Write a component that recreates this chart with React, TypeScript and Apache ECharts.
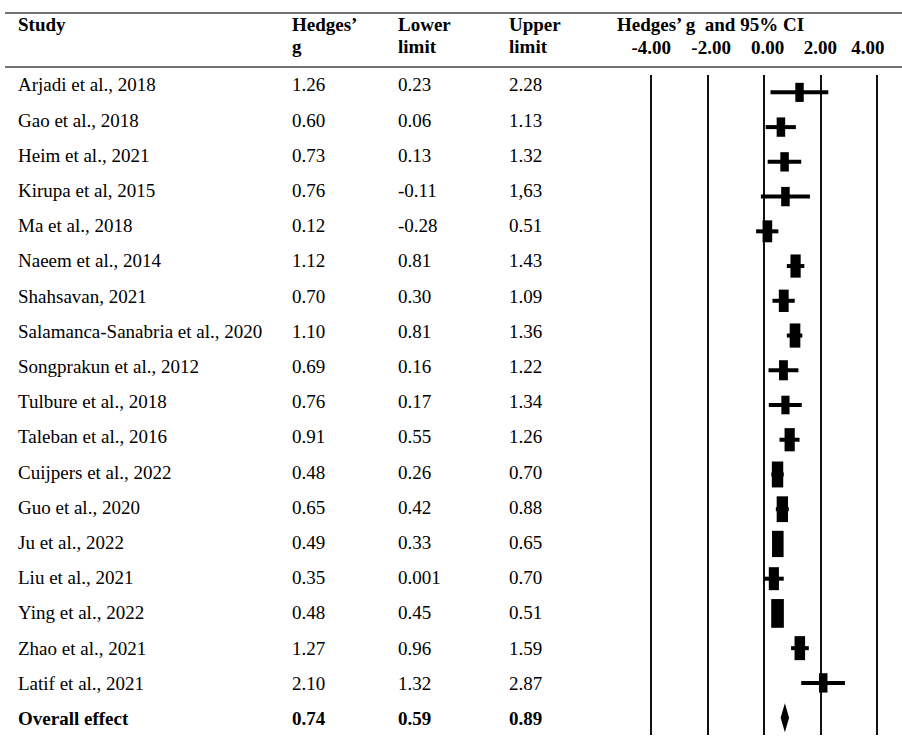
import React, { useEffect, useRef } from "react";
import * as echarts from "echarts";

// ---------- data ----------
const studies = [
  "Arjadi et al., 2018",
  "Gao et al., 2018",
  "Heim et al., 2021",
  "Kirupa et al, 2015",
  "Ma et al., 2018",
  "Naeem et al., 2014",
  "Shahsavan, 2021",
  "Salamanca-Sanabria et al., 2020",
  "Songprakun et al., 2012",
  "Tulbure et al., 2018",
  "Taleban et al., 2016",
  "Cuijpers et al., 2022",
  "Guo et al., 2020",
  "Ju et al., 2022",
  "Liu et al., 2021",
  "Ying et al., 2022",
  "Zhao et al., 2021",
  "Latif et al., 2021",
];
const hedgesG = ["1.26", "0.60", "0.73", "0.76", "0.12", "1.12", "0.70", "1.10", "0.69", "0.76", "0.91", "0.48", "0.65", "0.49", "0.35", "0.48", "1.27", "2.10"];
const lowerLimit = ["0.23", "0.06", "0.13", "-0.11", "-0.28", "0.81", "0.30", "0.81", "0.16", "0.17", "0.55", "0.26", "0.42", "0.33", "0.001", "0.45", "0.96", "1.32"];
const upperLimit = ["2.28", "1.13", "1.32", "1,63", "0.51", "1.43", "1.09", "1.36", "1.22", "1.34", "1.26", "0.70", "0.88", "0.65", "0.70", "0.51", "1.59", "2.87"];
// relative study weights (%)
const studyWeights = [3.8, 3.9, 3.9, 3.9, 5.0, 5.6, 5.2, 6.1, 4.2, 3.6, 5.6, 7.0, 6.9, 7.2, 5.5, 8.6, 6.0, 3.9];
const overallLabel = "Overall effect";
const overallG = "0.74";
const overallLower = "0.59";
const overallUpper = "0.89";
const axisTicks = [-4, -2, 0, 2, 4];

// ---------- layout / style ----------
const W = 902;
const H = 747;
const FONT = "'Liberation Serif', 'Times New Roman', Times, serif";
const FS = 19;
const TEXT_COLOR = "#000";
const colX = { study: 18, g: 292, lo: 398, hi: 509 };

const num = (s: string) => parseFloat(s.replace(",", "."));

const rowNames = [...studies, overallLabel];

export default function App() {
  const ref = useRef<HTMLDivElement>(null);

  useEffect(() => {
    document.body.style.margin = "0";
    if (!ref.current) return;
    const chart = echarts.init(ref.current, undefined, { renderer: "svg" });

    const tableData = rowNames.map((name, i) => {
      const isOverall = i === studies.length;
      return [
        i,
        name,
        isOverall ? overallG : hedgesG[i],
        isOverall ? overallLower : lowerLimit[i],
        isOverall ? overallUpper : upperLimit[i],
        isOverall ? 1 : 0,
      ];
    });

    const forestData = rowNames.map((_, i) => {
      const isOverall = i === studies.length;
      return [
        num(isOverall ? overallG : hedgesG[i]),
        num(isOverall ? overallLower : lowerLimit[i]),
        num(isOverall ? overallUpper : upperLimit[i]),
        isOverall ? 0 : studyWeights[i],
        i,
        isOverall ? 1 : 0,
      ];
    });

    const txt = (x: number, y: number, text: string, bold: boolean) => ({
      type: "text",
      x,
      y,
      style: {
        text,
        fill: TEXT_COLOR,
        font: `${bold ? "bold " : ""}${FS}px ${FONT}`,
        textAlign: "left",
        textVerticalAlign: "middle",
      },
    });

    const option: any = {
      animation: false,
      backgroundColor: "#fff",
      grid: [
        { left: 651.2, right: W - 876.8, top: 75, bottom: 12 },
        { left: 0, right: 0, top: 67.4, bottom: 11 },
      ],
      xAxis: [
        {
          gridIndex: 0,
          type: "value",
          position: "top",
          min: axisTicks[0],
          max: axisTicks[axisTicks.length - 1],
          interval: axisTicks[1] - axisTicks[0],
          axisLine: { show: false },
          axisTick: { show: false },
          splitLine: { show: true, showMinLine: true, showMaxLine: true, lineStyle: { color: "#111", width: 2 } },
          axisLabel: {
            show: true,
            margin: 28,
            verticalAlign: "middle",
            color: TEXT_COLOR,
            fontFamily: FONT,
            fontSize: FS,
            fontWeight: "bold",
            formatter: (v: number) => {
              const s = v.toFixed(2);
              if (v === axisTicks[axisTicks.length - 1]) return `{r|${s}}`;
              if (v === axisTicks[1] || v === axisTicks[2]) return `{p|${s}}`;
              return s;
            },
            rich: {
              r: { padding: [0, 18, 0, 0], color: TEXT_COLOR, fontFamily: FONT, fontSize: FS, fontWeight: "bold" },
              p: { padding: [0, 0, 0, 7], color: TEXT_COLOR, fontFamily: FONT, fontSize: FS, fontWeight: "bold" },
            },
          },
        },
        { gridIndex: 1, type: "value", min: 0, max: W, show: false },
      ],
      yAxis: [
        { gridIndex: 0, type: "category", data: rowNames, inverse: true, show: false },
        { gridIndex: 1, type: "category", data: rowNames, inverse: true, show: false },
      ],
      series: [
        {
          type: "custom",
          xAxisIndex: 1,
          yAxisIndex: 1,
          data: tableData,
          silent: true,
          renderItem: (params: any, api: any) => {
            const idx = params.dataIndex;
            const row = tableData[idx];
            const y = api.coord([0, row[0]])[1];
            const bold = row[5] === 1;
            const mk = (x: number, text: string) => ({
              type: "text",
              x,
              y,
              style: {
                text,
                fill: TEXT_COLOR,
                font: `${bold ? "bold " : ""}${FS}px ${FONT}`,
                textAlign: "left",
                textVerticalAlign: "middle",
              },
            });
            return {
              type: "group",
              children: [
                mk(colX.study, row[1] as string),
                mk(colX.g, row[2] as string),
                mk(colX.lo, row[3] as string),
                mk(colX.hi, row[4] as string),
              ],
            };
          },
        },
        {
          type: "custom",
          xAxisIndex: 0,
          yAxisIndex: 0,
          data: forestData,
          silent: true,
          encode: { x: [0, 1, 2], y: 4 },
          renderItem: (params: any, api: any) => {
            const yi = api.value(4);
            const pc = api.coord([api.value(0), yi]);
            const lo = api.coord([api.value(1), yi]);
            const hi = api.coord([api.value(2), yi]);
            if (api.value(5) === 1) {
              const hh = 14.5;
              return {
                type: "polygon",
                shape: {
                  points: [
                    [lo[0], pc[1]],
                    [pc[0], pc[1] - hh],
                    [hi[0], pc[1]],
                    [pc[0], pc[1] + hh],
                  ],
                },
                style: { fill: "#000" },
              };
            }
            const bh = 9.8 * Math.sqrt(api.value(3));
            const bw = 0.44 * bh;
            return {
              type: "group",
              children: [
                {
                  type: "line",
                  shape: { x1: lo[0], y1: pc[1], x2: hi[0], y2: pc[1] },
                  style: { stroke: "#000", lineWidth: 4 },
                },
                {
                  type: "rect",
                  shape: { x: pc[0] - bw / 2, y: pc[1] - bh / 2, width: bw, height: bh },
                  style: { fill: "#000" },
                },
              ],
            };
          },
        },
      ],
      graphic: [
        { type: "line", shape: { x1: 5, y1: 13, x2: W, y2: 13 }, style: { stroke: "#444", lineWidth: 1.5 } },
        { type: "line", shape: { x1: 5, y1: 67, x2: W, y2: 67 }, style: { stroke: "#444", lineWidth: 1.5 } },
        txt(18, 24, "Study", true),
        txt(292, 24, "Hedges’", true),
        txt(292, 46.7, "g", true),
        txt(398, 24, "Lower", true),
        txt(398, 46.7, "limit", true),
        txt(509, 24, "Upper", true),
        txt(509, 46.7, "limit", true),
        txt(617, 24, "Hedges’ g  and 95% CI", true),
      ],
    };

    chart.setOption(option);
    return () => chart.dispose();
  }, []);

  return <div ref={ref} style={{ width: W, height: H }} />;
}
